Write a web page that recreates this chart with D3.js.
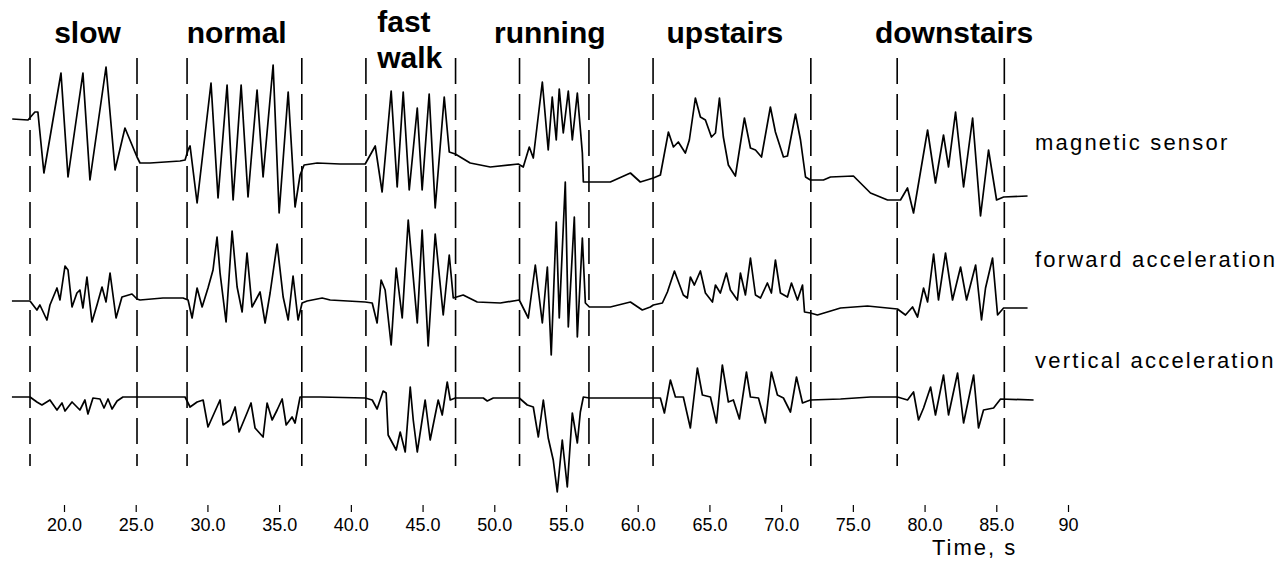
<!DOCTYPE html>
<html>
<head>
<meta charset="utf-8">
<script src="https://cdn.jsdelivr.net/npm/d3@7"></script>
<style>
  html, body { margin: 0; padding: 0; background: #fff; }
  svg { display: block; }
  text { font-family: "Liberation Sans", Arial, sans-serif; fill: #000; }
</style>
</head>
<body>
<svg id="chart" width="1280" height="561"></svg>
<script>
// ---- DATA (time in s, signal in arbitrary units) ----
const tickValues = [20, 25, 30, 35, 40, 45, 50, 55, 60, 65, 70, 75, 80, 85, 90];
const tickLabels = ["20.0","25.0","30.0","35.0","40.0","45.0","50.0","55.0","60.0","65.0","70.0","75.0","80.0","85.0","90"];

const activities = ["slow", "normal", "fast walk", "running", "upstairs", "downstairs"];
const activityLabelTimes = [21.64, 32.04, 41.84, 53.87, 66.08, 82.06];
const boundaryTimes = [17.63, 25.09, 28.58, 36.58, 41.05, 47.30, 51.76, 56.60, 61.07, 72.07, 78.09, 85.56];

const seriesNames = ["magnetic sensor", "forward acceleration", "vertical acceleration"];

const magnetic = [
 [16.39,44],[17.49,43],[17.97,51],[18.18,51],[18.60,-10],[19.79,90],[20.28,-14],[21.32,90],[21.81,-17],
 [22.93,96],[23.56,-7],[24.25,35],[25.09,6],[25.30,0],[26.00,0],[28.09,2],[28.44,3],[28.65,13],[28.79,17],
 [29.28,-40],[30.25,80],[30.74,-35],[31.37,78],[31.79,-37],[32.35,78],[32.83,-34],[33.46,73],[33.88,-14],
 [34.58,98],[35.00,-50],[35.63,71],[36.11,-44],[36.46,-12],[36.74,-2],[37.65,0],[39.25,-1],[41.00,-1],
 [41.70,17],[42.18,-29],[42.81,72],[43.23,-24],[43.65,71],[44.07,-27],[44.63,55],[44.97,-27],[45.46,69],
 [45.88,-45],[46.51,66],[46.86,11],[47.28,9],[48.32,0],[49.72,-4],[51.67,-1],[52.02,-4],[52.44,16],
 [52.72,5],[53.35,81],[53.76,13],[54.04,66],[54.32,23],[54.53,74],[54.81,30],[55.16,72],[55.44,23],
 [55.79,70],[56.14,10],[56.21,-19],[56.63,-19],[58.09,-19],[59.49,-10],[60.18,-19],[61.09,-15],[61.58,-12],
 [62.14,31],[62.49,16],[62.83,21],[63.32,10],[63.60,23],[64.02,65],[64.37,46],[64.72,43],[65.14,26],
 [65.42,30],[65.70,65],[65.97,26],[66.32,-2],[66.81,-13],[67.44,45],[67.86,15],[68.21,13],[68.63,6],
 [69.25,56],[69.60,31],[70.16,6],[70.44,7],[71.00,49],[71.35,23],[71.70,-14],[72.04,-17],[72.95,-17],
 [73.44,-14],[75.04,-13],[76.23,-30],[77.42,-37],[78.32,-37],[78.81,-25],[79.23,-50],[80.21,33],[80.76,-20],
 [81.32,28],[81.67,-4],[82.16,51],[82.72,-24],[83.35,45],[83.90,-53],[84.46,13],[85.02,-37],[85.51,-34],
 [87.18,-33]
];

const forward = [
 [16.37,-1],[17.63,-1],[18.11,-10],[18.32,-5],[18.81,-20],[19.02,-5],[19.51,12],[19.72,0],[20.07,34],
 [20.28,30],[20.56,-7],[20.90,7],[21.11,10],[21.32,-8],[21.60,23],[21.95,-22],[22.30,-5],[22.65,13],
 [22.93,-2],[23.21,27],[23.63,-18],[24.04,3],[24.74,6],[25.09,1],[25.30,0],[26.90,2],[28.30,2],[28.65,0],
 [28.93,-18],[29.28,12],[29.63,-7],[30.04,12],[30.39,30],[30.67,63],[30.88,27],[31.30,-22],[31.72,69],
 [32.07,13],[32.42,-12],[32.76,47],[33.11,-7],[33.67,8],[34.02,-23],[34.37,7],[34.86,56],[35.28,3],
 [35.63,-20],[35.97,24],[36.32,-20],[36.60,-3],[36.95,-1],[38.00,2],[38.56,0],[41.00,-2],[41.49,-3],
 [41.83,-23],[42.11,20],[42.39,10],[42.81,-45],[43.16,32],[43.58,-18],[44.00,80],[44.63,-23],[44.97,70],
 [45.39,-46],[45.88,66],[46.44,-15],[46.86,45],[47.14,2],[47.83,5],[48.81,-2],[50.42,-3],[51.74,0],
 [52.37,-18],[52.86,35],[53.35,-23],[53.70,33],[53.97,-55],[54.32,78],[54.53,-18],[54.95,118],[55.16,-27],
 [55.58,83],[55.79,-37],[56.14,62],[56.35,-3],[56.63,-7],[58.09,-7],[59.49,-2],[60.32,-10],[60.88,-7],
 [61.09,-5],[61.72,-3],[62.07,8],[62.56,29],[63.18,5],[63.46,2],[63.67,23],[63.95,15],[64.37,29],[64.72,7],
 [65.21,-2],[65.42,15],[65.76,7],[66.18,27],[66.46,10],[66.95,0],[67.16,27],[67.51,5],[67.86,42],[68.21,5],
 [68.56,2],[69.04,17],[69.32,7],[69.60,40],[69.95,7],[70.44,3],[70.72,17],[71.14,0],[71.49,15],[71.63,-12],
 [72.04,-13],[72.53,-15],[74.14,-8],[76.02,-6],[78.11,-9],[78.67,-15],[79.16,-7],[79.51,-17],[79.93,12],
 [80.21,-2],[80.63,46],[80.97,0],[81.46,47],[81.95,0],[82.51,33],[82.93,0],[83.56,35],[83.97,-20],
 [84.25,12],[84.74,42],[85.09,-15],[85.51,-8],[87.18,-8]
];

const vertical = [
 [16.37,0],[17.63,0],[18.11,-5],[18.46,-8],[19.02,-3],[19.51,-13],[19.86,-6],[20.07,-14],[20.56,-5],
 [21.11,-13],[21.46,-3],[21.67,-17],[22.02,-1],[22.51,-2],[22.79,-11],[23.07,-2],[23.35,-12],[23.70,-4],
 [24.11,0],[25.09,0],[26.70,0],[28.44,0],[28.79,-10],[29.28,-5],[29.70,-3],[30.04,-30],[30.32,-21],
 [30.88,-3],[31.09,-28],[31.58,-23],[31.93,-10],[32.21,-35],[32.76,-16],[33.04,-6],[33.32,-31],[33.88,-40],
 [34.16,-6],[34.51,-23],[34.86,-13],[35.21,-2],[35.49,-28],[35.90,-20],[36.11,-26],[36.46,0],[37.86,0],
 [41.00,-1],[41.49,-3],[41.83,-12],[42.25,6],[42.46,4],[42.60,-38],[43.16,-53],[43.44,-35],[43.79,-55],
 [44.14,10],[44.35,-23],[44.63,-55],[45.18,-3],[45.53,-43],[46.09,-3],[46.37,-18],[46.72,15],[46.93,-3],
 [47.28,-1],[49.23,-1],[49.51,-4],[49.93,-1],[51.74,-1],[52.30,-8],[52.72,-10],[53.07,-40],[53.42,-3],
 [53.76,-41],[54.11,-63],[54.39,-95],[54.74,-43],[55.09,-90],[55.44,-16],[55.79,-46],[56.00,-15],[56.21,0],
 [56.63,-1],[60.88,-1],[61.58,-1],[61.86,-16],[62.28,17],[62.63,0],[63.18,0],[63.67,-31],[64.16,29],
 [64.51,2],[65.07,0],[65.49,-26],[65.90,32],[66.32,-5],[66.67,-3],[67.09,-22],[67.58,25],[67.86,0],
 [68.42,-1],[68.90,-26],[69.32,25],[69.74,2],[70.16,-1],[70.65,-15],[71.07,20],[71.49,-6],[72.04,-3],
 [74.14,-2],[76.23,0],[78.11,0],[78.81,-3],[79.23,5],[79.58,-23],[79.93,-11],[80.42,10],[80.76,-18],
 [81.32,22],[81.67,-18],[82.30,24],[82.72,-26],[83.42,22],[83.76,-31],[84.11,-13],[84.81,-11],[85.30,-2],
 [87.60,-3]
];

// ---- LAYOUT ----
const svg = d3.select("#chart");
const x = d3.scaleLinear().domain([20, 90]).range([64, 1068]);
const trackBase = [163, 300, 397];
const yScales = trackBase.map(b => d3.scaleLinear().domain([-100, 100]).range([b + 100, b - 100]));
const series = [magnetic, forward, vertical];

// dashed boundaries
svg.append("g").selectAll("line").data(boundaryTimes).join("line")
  .attr("x1", d => x(d)).attr("x2", d => x(d))
  .attr("y1", 58).attr("y2", 466)
  .attr("stroke", "#000").attr("stroke-width", 1.6)
  .attr("stroke-dasharray", "26,10");

// traces
series.forEach((s, i) => {
  const line = d3.line().x(d => x(d[0])).y(d => yScales[i](d[1]));
  svg.append("path").datum(s)
    .attr("d", line)
    .attr("fill", "none").attr("stroke", "#000")
    .attr("stroke-width", 1.7).attr("stroke-linejoin", "round");
});

// series labels
const labelY = [150, 267, 368];
svg.append("g").selectAll("text").data(seriesNames).join("text")
  .attr("x", 1035).attr("y", (d, i) => labelY[i])
  .attr("font-size", 22).attr("letter-spacing", 2.2)
  .text(d => d);

// activity labels
activities.forEach((a, i) => {
  if (a === "fast walk") {
    const g = svg.append("text").attr("font-size", 30).attr("font-weight", "bold")
      .attr("text-anchor", "start");
    g.append("tspan").attr("x", x(activityLabelTimes[i])).attr("y", 32).text("fast");
    g.append("tspan").attr("x", x(activityLabelTimes[i])).attr("y", 68).text("walk");
  } else {
    svg.append("text").attr("x", x(activityLabelTimes[i])).attr("y", 43)
      .attr("font-size", 30).attr("font-weight", "bold")
      .attr("text-anchor", "middle").text(a);
  }
});

// x axis (ticks + labels, no domain line)
const axis = d3.axisBottom(x).tickValues(tickValues)
  .tickFormat((d, i) => tickLabels[i]).tickSize(7).tickPadding(6);
const ag = svg.append("g").attr("transform", "translate(0,505)").call(axis);
ag.select(".domain").remove();
ag.selectAll(".tick line").attr("stroke", "#000").attr("stroke-width", 1.2);
ag.selectAll(".tick text").attr("font-size", 18)
  .attr("font-family", "'Liberation Sans', Arial, sans-serif").attr("fill", "#000");

svg.append("text").attr("x", 932).attr("y", 555).attr("font-size", 22)
  .attr("letter-spacing", 2).text("Time, s");
</script>
</body>
</html>
